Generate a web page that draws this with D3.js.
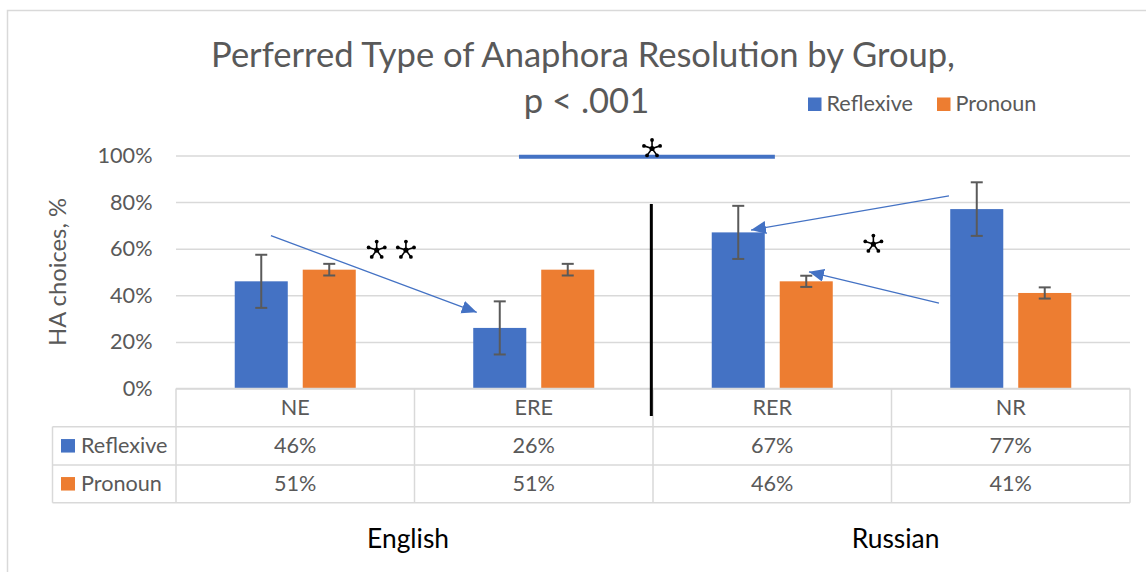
<!DOCTYPE html>
<html>
<head>
<meta charset="utf-8">
<script src="https://cdn.jsdelivr.net/npm/d3@7"></script>
<style>
  html, body { margin: 0; padding: 0; background: #fff; }
  svg { display: block; }
</style>
</head>
<body>
<svg id="chart" width="1146" height="572"></svg>
<script>
// ---- data ----
const categories = ["NE", "ERE", "RER", "NR"];
const seriesNames = ["Reflexive", "Pronoun"];
const reflexive = [0.46, 0.26, 0.67, 0.77];
const pronoun = [0.51, 0.51, 0.46, 0.41];
const reflexiveErr = [0.114, 0.114, 0.114, 0.115];
const pronounErr = [0.025, 0.025, 0.024, 0.024];
const yTicks = [0, 0.2, 0.4, 0.6, 0.8, 1];
const groupLabels = ["English", "Russian"];
const groupAt = [0.973, 3.017];           // position along the category axis (category index units)
const titleLines = ["Perferred Type of Anaphora Resolution by Group,", "p < .001"];
const yTitle = "HA choices, %";

// annotation arrows, in (category units, value)
const arrowFrom = [[0.398, 0.656], [3.241, 0.827], [3.199, 0.366]];
const arrowTo   = [[1.261, 0.327], [2.411, 0.680], [2.654, 0.501]];
// significance stars, in (category units, value)
const starAt = [[1.996, 1.03], [0.8415, 0.594], [0.964, 0.594], [2.924, 0.62]];
// bracket across the two language groups
const bracketSpan = [1.438, 2.511];
const bracketValue = 0.995;
// divider between the English and Russian groups
const dividerAt = 1.993;
const dividerSpan = [-0.118, 0.792];

const colors = { Reflexive: "#4472C4", Pronoun: "#ED7D31" };
const seriesValues = { Reflexive: reflexive, Pronoun: pronoun };
const seriesErr = { Reflexive: reflexiveErr, Pronoun: pronounErr };

const svg = d3.select("#chart");
const FONT = "Lato, 'Open Sans', 'Liberation Sans', sans-serif";
const GREY = "#595959";
const LINE = "#D9D9D9";

// font size that makes `str` render at the given pixel width
function fitSize(str, weight, width) {
  const t = svg.append("text").attr("font-family", FONT).attr("font-weight", weight)
    .attr("font-size", 100).text(str);
  const w = t.node().getComputedTextLength();
  t.remove();
  return 100 * width / w;
}
const bodySize = fitSize("Reflexive", 400, 86.5);
const titleSize = fitSize(titleLines[0], 400, 744);
const axisTitleSize = fitSize(yTitle, 400, 148);
const groupSize = fitSize("English", 400, 82);

// ---- layout / scales ----
const plotLeft = 176, plotRight = 1130, plotTop = 155.5, plotBottom = 388.5;
const y = d3.scaleLinear().domain([0, 1]).range([plotBottom, plotTop]);
const x0 = d3.scaleBand().domain(categories).range([plotLeft, plotRight]).padding(0);
const x1 = d3.scaleBand().domain(seriesNames).range([0, x0.bandwidth()])
  .paddingInner(0.22).paddingOuter(0.864);
const xc = d3.scaleLinear().domain([0, categories.length]).range([plotLeft, plotRight]);

// outer chart frame
svg.append("rect").attr("x", 7.5).attr("y", 10.5).attr("width", 1160).attr("height", 600)
  .attr("fill", "none").attr("stroke", LINE).attr("stroke-width", 1.5);

// ---- title ----
svg.append("text").attr("x", 583).attr("y", 67).attr("text-anchor", "middle")
  .attr("font-family", FONT).attr("font-weight", 400).attr("font-size", titleSize)
  .attr("fill", GREY).text(titleLines[0]);
svg.append("text").attr("x", 586.5).attr("y", 113).attr("text-anchor", "middle")
  .attr("font-family", FONT).attr("font-weight", 400).attr("font-size", titleSize)
  .attr("fill", GREY).text(titleLines[1]);

// ---- legend ----
const legendX = [808, 937];
const legend = svg.append("g").selectAll("g").data(seriesNames).join("g")
  .attr("transform", (d, i) => `translate(${legendX[i]},0)`);
legend.append("rect").attr("x", 0).attr("y", 97.5).attr("width", 13.5).attr("height", 13.5)
  .attr("fill", d => colors[d]);
legend.append("text").attr("x", 18.5).attr("y", 110.5)
  .attr("font-family", FONT).attr("font-size", bodySize).attr("fill", GREY).text(d => d);

// ---- gridlines & y axis ----
const grid = svg.append("g").attr("transform", `translate(${plotLeft},0)`)
  .call(d3.axisLeft(y).tickValues(yTicks).tickSize(-(plotRight - plotLeft)).tickFormat(""));
grid.select(".domain").remove();
grid.selectAll("line").attr("stroke", LINE).attr("stroke-width", 1.5);

const yAxis = svg.append("g").attr("transform", `translate(${plotLeft},0)`)
  .call(d3.axisLeft(y).tickValues(yTicks).tickSize(0).tickPadding(23.5).tickFormat(d3.format(".0%")));
yAxis.select(".domain").remove();
yAxis.selectAll("text").attr("font-family", FONT).attr("font-size", bodySize).attr("fill", GREY);

svg.append("text").attr("transform", `translate(66,272) rotate(-90)`).attr("text-anchor", "middle")
  .attr("font-family", FONT).attr("font-size", axisTitleSize).attr("fill", GREY).text(yTitle);

// ---- bars ----
const catG = svg.append("g").selectAll("g").data(categories).join("g")
  .attr("transform", d => `translate(${x0(d)},0)`);
const cells = catG.selectAll("g").data((c, i) => seriesNames.map(s => ({
  s, v: seriesValues[s][i], e: seriesErr[s][i] }))).join("g");
cells.append("rect")
  .attr("x", d => x1(d.s)).attr("width", x1.bandwidth())
  .attr("y", d => y(d.v)).attr("height", d => y(0) - y(d.v))
  .attr("fill", d => colors[d.s]);

// error bars
const eb = cells.append("g").attr("stroke", "#5A5A5A").attr("stroke-width", 2);
const cx = d => x1(d.s) + x1.bandwidth() / 2;
eb.append("line").attr("x1", cx).attr("x2", cx)
  .attr("y1", d => y(d.v + d.e)).attr("y2", d => y(d.v - d.e));
eb.append("line").attr("x1", d => cx(d) - 6).attr("x2", d => cx(d) + 6)
  .attr("y1", d => y(d.v + d.e)).attr("y2", d => y(d.v + d.e));
eb.append("line").attr("x1", d => cx(d) - 6).attr("x2", d => cx(d) + 6)
  .attr("y1", d => y(d.v - d.e)).attr("y2", d => y(d.v - d.e));

// ---- data table ----
const rowTop = [plotBottom, 426.7, 465, 502.7];
const labelLeft = 52.5;
const tbl = svg.append("g").attr("stroke", LINE).attr("stroke-width", 1.5);
tbl.append("line").attr("x1", plotLeft).attr("x2", plotRight).attr("y1", rowTop[0]).attr("y2", rowTop[0]);
[1, 2, 3].forEach(r => tbl.append("line").attr("x1", labelLeft).attr("x2", plotRight)
  .attr("y1", rowTop[r]).attr("y2", rowTop[r]));
tbl.append("line").attr("x1", labelLeft).attr("x2", labelLeft).attr("y1", rowTop[1]).attr("y2", rowTop[3]);
categories.forEach(c => tbl.append("line").attr("x1", x0(c)).attr("x2", x0(c))
  .attr("y1", rowTop[0]).attr("y2", rowTop[3]));
tbl.append("line").attr("x1", plotRight).attr("x2", plotRight).attr("y1", rowTop[0]).attr("y2", rowTop[3]);

const rowMid = r => (rowTop[r] + rowTop[r + 1]) / 2;
svg.append("g").selectAll("text").data(categories).join("text")
  .attr("x", d => x0(d) + x0.bandwidth() / 2).attr("y", rowMid(0)).attr("dy", "0.35em")
  .attr("text-anchor", "middle").attr("font-family", FONT).attr("font-size", bodySize)
  .attr("fill", GREY).text(d => d);
seriesNames.forEach((s, r) => {
  const g = svg.append("g");
  g.append("rect").attr("x", 61).attr("y", rowMid(r + 1) - 6.8).attr("width", 14).attr("height", 13.5)
    .attr("fill", colors[s]);
  g.append("text").attr("x", 81).attr("y", rowMid(r + 1)).attr("dy", "0.35em")
    .attr("font-family", FONT).attr("font-size", bodySize).attr("fill", GREY).text(s);
  g.selectAll("text.val").data(seriesValues[s]).join("text").attr("class", "val")
    .attr("x", (d, i) => x0(categories[i]) + x0.bandwidth() / 2).attr("y", rowMid(r + 1)).attr("dy", "0.35em")
    .attr("text-anchor", "middle").attr("font-family", FONT).attr("font-size", bodySize)
    .attr("fill", GREY).text(d => d3.format(".0%")(d));
});

// ---- group labels ----
svg.append("g").selectAll("text").data(groupLabels).join("text")
  .attr("x", (d, i) => xc(groupAt[i])).attr("y", 548).attr("text-anchor", "middle")
  .attr("font-family", FONT).attr("font-size", groupSize).attr("fill", "#000").text(d => d);

// ---- annotations ----
svg.append("defs").append("marker").attr("id", "head")
  .attr("markerUnits", "userSpaceOnUse").attr("markerWidth", 16).attr("markerHeight", 14)
  .attr("refX", 15).attr("refY", 6.5).attr("orient", "auto")
  .append("path").attr("d", "M0,0 L15,6.5 L0,13 Z").attr("fill", "#4472C4");

svg.append("g").selectAll("line").data(arrowFrom).join("line")
  .attr("x1", d => xc(d[0])).attr("y1", d => y(d[1]))
  .attr("x2", (d, i) => xc(arrowTo[i][0])).attr("y2", (d, i) => y(arrowTo[i][1]))
  .attr("stroke", "#4472C4").attr("stroke-width", 1.3).attr("marker-end", "url(#head)");

svg.append("line").attr("x1", xc(bracketSpan[0])).attr("x2", xc(bracketSpan[1]))
  .attr("y1", y(bracketValue)).attr("y2", y(bracketValue))
  .attr("stroke", "#4472C4").attr("stroke-width", 4);

svg.append("line").attr("x1", xc(dividerAt)).attr("x2", xc(dividerAt))
  .attr("y1", y(dividerSpan[1])).attr("y2", y(dividerSpan[0]))
  .attr("stroke", "#000").attr("stroke-width", 3);

// five-spoke star with dotted tips
const stars = svg.append("g").selectAll("g").data(starAt).join("g")
  .attr("transform", d => `translate(${xc(d[0])},${y(d[1])})`);
const spokes = d3.range(5).map(k => -Math.PI / 2 + k * 2 * Math.PI / 5);
stars.selectAll("line").data(spokes).join("line")
  .attr("x1", 0).attr("y1", 0).attr("x2", a => 8.5 * Math.cos(a)).attr("y2", a => 8.5 * Math.sin(a))
  .attr("stroke", "#000").attr("stroke-width", 1.6);
stars.selectAll("circle.tip").data(spokes).join("circle").attr("class", "tip")
  .attr("cx", a => 8.5 * Math.cos(a)).attr("cy", a => 8.5 * Math.sin(a)).attr("r", 1.9).attr("fill", "#000");
stars.append("circle").attr("r", 2.6).attr("fill", "#000");
</script>
</body>
</html>
